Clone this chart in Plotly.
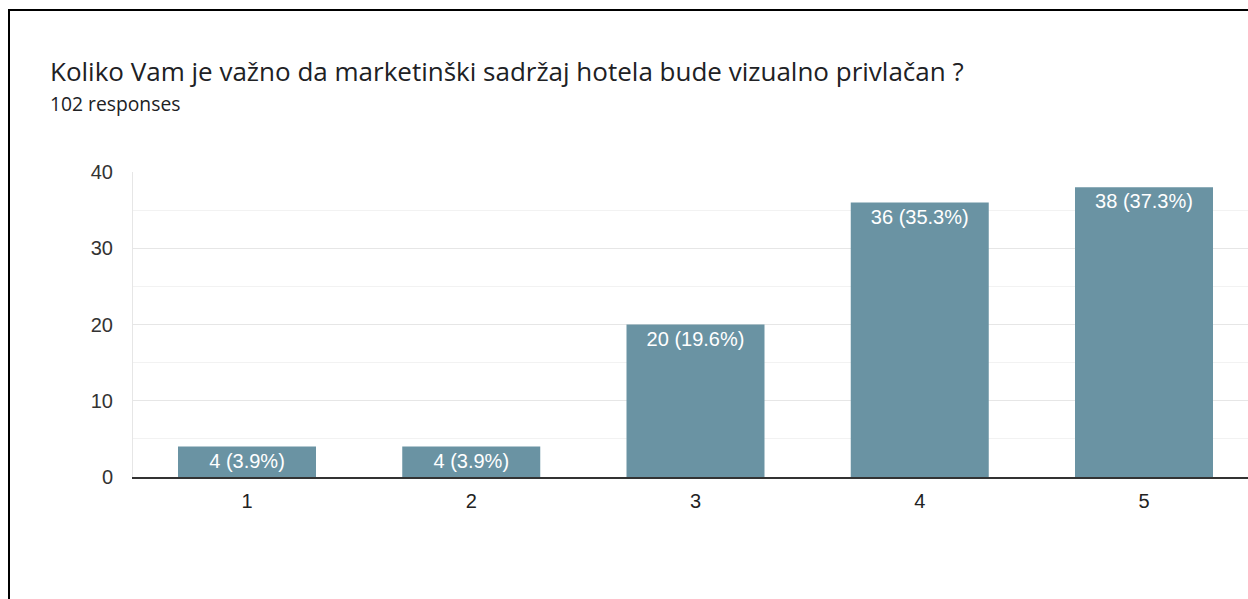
import plotly.graph_objects as go

categories = ["1", "2", "3", "4", "5"]
counts = [4, 4, 20, 36, 38]
percents = ["3.9%", "3.9%", "19.6%", "35.3%", "37.3%"]
title_text = "Koliko Vam je važno da marketinški sadržaj hotela bude vizualno privlačan ?"
subtitle_text = "102 responses"
y_ticks = [0, 10, 20, 30, 40]

W, H = 1248, 599
L, T, R = 133, 172, 0
B = H - 477
pw = W - L - R
ph = H - T - B
step = 224.25
x0 = -(247 - 133) / step

def px_x(sx):
    return (sx - L) / pw

def px_y(sy):
    return (H - B - sy) / ph

labels = [f"{c} ({p})" for c, p in zip(counts, percents)]

fig = go.Figure(go.Bar(
    x=categories, y=counts,
    text=labels, textposition="inside", insidetextanchor="end",
    textfont=dict(family="Liberation Sans, Arial", size=20, color="white"),
    marker=dict(color="#6a93a3", line=dict(width=0)),
    width=138 / step, cliponaxis=False,
))

fig.update_layout(
    width=W, height=H,
    margin=dict(l=L, r=R, t=T, b=B),
    paper_bgcolor="white", plot_bgcolor="white",
    showlegend=False,
    uniformtext=dict(minsize=8, mode="show"),
)

fig.add_annotation(text=title_text, xref="paper", yref="paper",
                   x=px_x(48), y=px_y(71), xanchor="left", yanchor="middle",
                   showarrow=False,
                   font=dict(family="Open Sans", size=26, color="#202124"))
fig.add_annotation(text=subtitle_text, xref="paper", yref="paper",
                   x=px_x(48), y=px_y(103.5), xanchor="left", yanchor="middle",
                   showarrow=False,
                   font=dict(family="Open Sans", size=19.3, color="#202124"))

fig.update_xaxes(type="category", range=[x0, x0 + pw / step],
                 showgrid=False, showline=True, linecolor="#333333", linewidth=1.5,
                 ticks="", ticklabelstandoff=5,
                 tickfont=dict(family="Liberation Sans, Arial", size=20, color="#222222"))
fig.update_yaxes(range=[0, 40], tickvals=y_ticks, showgrid=True, gridcolor="#e6e6e6",
                 gridwidth=1, zeroline=False, showline=True, linecolor="#e6e6e6",
                 linewidth=1, ticks="", ticklabelstandoff=15,
                 minor=dict(dtick=5, tick0=0, showgrid=True, gridcolor="#f2f2f2", gridwidth=1),
                 tickfont=dict(family="Liberation Sans, Arial", size=20, color="#333333"))

# frame: left and top edges only (the rest lies outside the picture)
fig.add_shape(type="line", xref="paper", yref="paper",
              x0=px_x(9), x1=px_x(9), y0=px_y(620), y1=px_y(9),
              line=dict(color="black", width=2), layer="above")
fig.add_shape(type="line", xref="paper", yref="paper",
              x0=px_x(8), x1=px_x(1260), y0=px_y(10), y1=px_y(10),
              line=dict(color="black", width=2), layer="above")

fig.write_html(
    "out.html",
    config={"displayModeBar": False},
    post_script="document.body.style.margin='0';document.body.style.overflow='hidden';",
)
